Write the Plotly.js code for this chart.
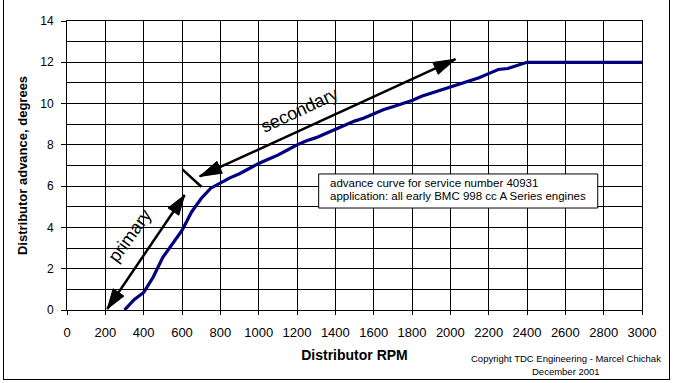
<!DOCTYPE html>
<html>
<head>
<meta charset="utf-8">
<script src="https://cdn.plot.ly/plotly-3.0.1.min.js"></script>
<style>
  html, body { margin: 0; padding: 0; background: #fff; }
  #wrap { position: relative; width: 673px; height: 383px; }
  #chart { position: absolute; left: 0; top: 0; width: 673px; height: 383px; }
  #frame { position: absolute; left: 3px; top: -2px; width: 667px; height: 382px;
           border: 1px solid #000; box-sizing: border-box; pointer-events: none; z-index: 10; }
</style>
</head>
<body>
<div id="wrap">
  <div id="chart"></div>
  <div id="frame"></div>
</div>
<script>
// Distributor speed (RPM) and centrifugal advance (degrees)
const rpm = [300, 350, 400, 450, 500, 550, 600, 650, 700, 750, 800, 850, 900, 950,
             1000, 1050, 1100, 1150, 1200, 1250, 1300, 1350, 1400, 1450, 1500, 1550,
             1600, 1650, 1700, 1750, 1800, 1850, 1900, 1950, 2000, 2050, 2100, 2150,
             2200, 2250, 2300, 2350, 2400, 2600, 2800, 3000];
const advance = [0.0, 0.5, 0.85, 1.6, 2.55, 3.2, 3.85, 4.75, 5.4, 5.9, 6.15, 6.4, 6.6, 6.85,
                 7.1, 7.3, 7.5, 7.75, 8.0, 8.2, 8.35, 8.55, 8.75, 8.95, 9.15, 9.3,
                 9.5, 9.7, 9.85, 10.0, 10.15, 10.35, 10.5, 10.65, 10.8, 10.95, 11.1, 11.25,
                 11.45, 11.65, 11.7, 11.85, 12.0, 12.0, 12.0, 12.0];

const xTitle = 'Distributor RPM';
const yTitle = 'Distributor advance, degrees';
const noteLines = ['advance curve for service number 40931',
                   'application: all early BMC 998 cc A Series engines'];
const copyLines = ['Copyright TDC Engineering - Marcel Chichak', 'December 2001'];
const labelPrimary = 'primary';
const labelSecondary = 'secondary';

const FONT = 'Liberation Sans, Arial, sans-serif';
const W = 673, H = 383;
const M = {l: 67, r: 31, t: 21, b: 73};
const pxR = (W - M.l - M.r) / 3000;
const pxD = (H - M.t - M.b) / 14;

function line(x0, y0, x1, y1, w) {
  return {type: 'line', xref: 'x', yref: 'y', x0, y0, x1, y1,
          line: {color: '#000', width: w}};
}
function head(tipX, tipY, fromX, fromY, L, Wd) {
  const ux = (tipX - fromX) * pxR, uy = (tipY - fromY) * pxD;
  const n = Math.hypot(ux, uy);
  const dx = ux / n, dy = uy / n;
  const bx = -L * dx, by = -L * dy;
  const nx = -dy, ny = dx;
  const p1 = [(bx + Wd * nx).toFixed(2), (by + Wd * ny).toFixed(2)];
  const p2 = [(bx - Wd * nx).toFixed(2), (by - Wd * ny).toFixed(2)];
  return {type: 'path', xref: 'x', yref: 'y', xsizemode: 'pixel', ysizemode: 'pixel',
          xanchor: tipX, yanchor: tipY,
          path: `M0,0 L${p1[0]},${p1[1]} L${p2[0]},${p2[1]} Z`,
          fillcolor: '#000', line: {color: '#000', width: 1}};
}

// arrow geometry (annotation decorations)
const pA = [210, 0.05], pB = [614, 5.57];
const sA = [692, 6.47], sB = [2027, 12.15];

const shapes = [
  {type: 'rect', xref: 'x', yref: 'y', x0: 1313, x1: 2769, y0: 4.94, y1: 6.59,
   fillcolor: '#fff', line: {color: '#000', width: 1}},
  line(pA[0], pA[1], pB[0], pB[1], 2.5),
  head(pA[0], pA[1], pB[0], pB[1], 20, 6.5),
  head(pB[0], pB[1], pA[0], pA[1], 20, 6.5),
  line(sA[0], sA[1], sB[0], sB[1], 2.5),
  head(sA[0], sA[1], sB[0], sB[1], 22, 6.5),
  head(sB[0], sB[1], sA[0], sA[1], 22, 6.5),
  line(602, 6.81, 701, 5.97, 2.5)
];

const annotations = [
  {text: labelPrimary, x: 327, y: 3.58, xref: 'x', yref: 'y', showarrow: false,
   textangle: -54, font: {family: FONT, size: 18, color: '#000'}},
  {text: labelSecondary, x: 1214, y: 9.69, xref: 'x', yref: 'y', showarrow: false,
   textangle: -25, font: {family: FONT, size: 18, color: '#000'}},
  {text: noteLines[0], x: 1360, y: 6.15, xref: 'x', yref: 'y', xanchor: 'left', yanchor: 'middle',
   showarrow: false, font: {family: FONT, size: 11.5, color: '#000'}},
  {text: noteLines[1], x: 1360, y: 5.52, xref: 'x', yref: 'y', xanchor: 'left', yanchor: 'middle',
   showarrow: false, font: {family: FONT, size: 11.5, color: '#000'}},
  {text: copyLines[0], x: 0.868, y: -0.168, xref: 'paper', yref: 'paper',
   xanchor: 'center', yanchor: 'middle', showarrow: false, borderpad: 0,
   font: {family: FONT, size: 9.5, color: '#000'}},
  {text: copyLines[1], x: 0.868, y: -0.213, xref: 'paper', yref: 'paper',
   xanchor: 'center', yanchor: 'middle', showarrow: false, borderpad: 0,
   font: {family: FONT, size: 9.5, color: '#000'}}
];

const trace = {
  x: rpm, y: advance, type: 'scatter', mode: 'lines',
  line: {color: '#000080', width: 3.2, shape: 'linear'},
  hoverinfo: 'x+y'
};

const layout = {
  width: W, height: H,
  margin: M,
  paper_bgcolor: '#fff', plot_bgcolor: '#fff',
  showlegend: false,
  font: {family: FONT, color: '#000'},
  xaxis: {
    range: [0, 3000], tick0: 0, dtick: 200, fixedrange: true,
    showgrid: true, gridcolor: '#000', gridwidth: 1, zeroline: false,
    showline: true, linecolor: '#000', linewidth: 1, mirror: true,
    ticks: 'outside', ticklen: 4, tickcolor: '#000',
    ticklabelstandoff: 6,
    tickfont: {family: FONT, size: 13, color: '#000'},
    title: {text: xTitle, standoff: 11, font: {family: FONT, size: 14, weight: 'bold', color: '#000'}}
  },
  yaxis: {
    range: [0, 14], tick0: 0, dtick: 2, fixedrange: true,
    showgrid: true, gridcolor: '#000', gridwidth: 1, zeroline: false,
    showline: true, linecolor: '#000', linewidth: 1, mirror: true,
    ticks: 'outside', ticklen: 5, tickcolor: '#000',
    ticklabelstandoff: 5,
    minor: {dtick: 1, showgrid: true, gridcolor: '#000', gridwidth: 1, ticks: ''},
    tickfont: {family: FONT, size: 12, color: '#000'},
    title: {text: yTitle, standoff: 9, font: {family: FONT, size: 13, weight: 'bold', color: '#000'}}
  },
  shapes: shapes,
  annotations: annotations
};

Plotly.newPlot('chart', [trace], layout, {displayModeBar: false, staticPlot: true});
</script>
</body>
</html>
